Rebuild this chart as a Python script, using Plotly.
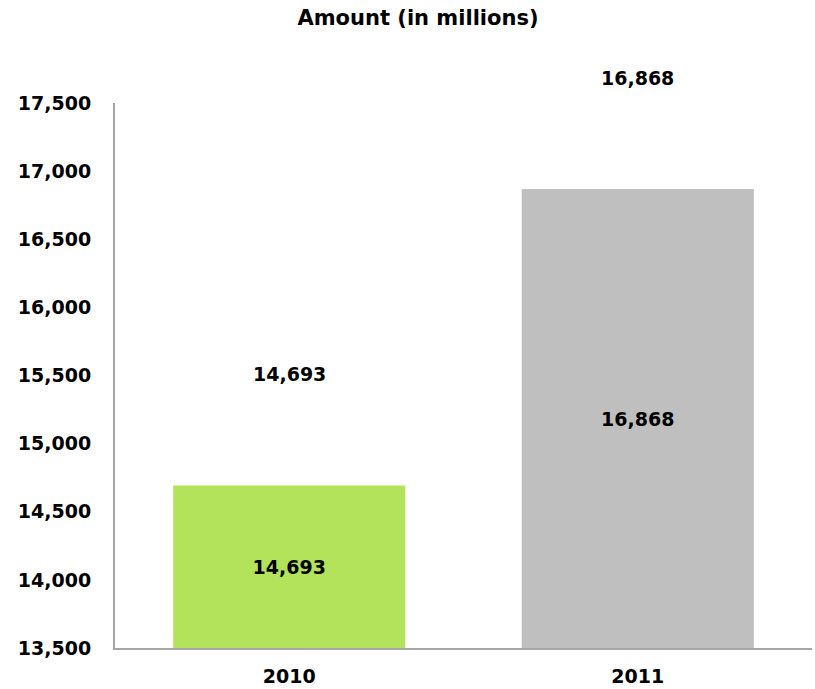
import plotly.graph_objects as go

categories = ["2010", "2011"]
values = [14693, 16868]
bar_colors = ["#b3e35b", "#bfbfbf"]
y_min, y_max = 13500, 17500
tick_vals = [13500, 14000, 14500, 15000, 15500, 16000, 16500, 17000, 17500]
tick_text = [f"{v:,}" for v in tick_vals]

FONT = "DejaVu Sans"

fig = go.Figure()
# bars drawn from the axis floor so that inside labels sit in the visible part
fig.add_trace(go.Bar(
    x=categories,
    y=[v - y_min for v in values],
    base=[y_min] * len(values),
    marker=dict(color=bar_colors, line=dict(width=0)),
    text=[f"{v:,}" for v in values],
    textposition="inside",
    insidetextanchor="middle",
    textangle=0,
    textfont=dict(family=FONT, size=19, color="black", weight="bold"),
    hoverinfo="skip",
))

for i, v in enumerate(values):
    fig.add_annotation(
        x=i, y=v, xref="x", yref="y",
        text=f"<b>{v:,}</b>",
        showarrow=False,
        yshift=111,
        font=dict(family=FONT, size=19, color="black"),
    )

fig.update_layout(
    width=815, height=689,
    margin=dict(l=115, r=3, t=103, b=41),
    paper_bgcolor="white",
    plot_bgcolor="white",
    bargap=0.334,
    showlegend=False,
    uniformtext=dict(minsize=19, mode="show"),
    title=dict(
        text="<b>Amount (in millions)</b>",
        xref="container", yref="container",
        x=418 / 815, xanchor="center",
        y=1 - 18 / 689, yanchor="middle",
        font=dict(family=FONT, size=21, color="black"),
    ),
    xaxis=dict(
        type="category",
        categoryorder="array", categoryarray=categories,
        range=[-0.5, 1.5], autorange=False,
        showline=True, linecolor="#a6a6a6", linewidth=2,
        showgrid=False, ticks="",
        tickfont=dict(family=FONT, size=19, color="black", weight="bold"),
        ticklabelstandoff=10,
    ),
    yaxis=dict(
        range=[y_min, y_max], autorange=False,
        tickvals=tick_vals, ticktext=tick_text,
        showline=True, linecolor="#a6a6a6", linewidth=2,
        showgrid=False, ticks="", zeroline=False,
        tickfont=dict(family=FONT, size=19, color="black", weight="bold"),
        ticklabelstandoff=18,
    ),
)

fig.write_html("out.html")
